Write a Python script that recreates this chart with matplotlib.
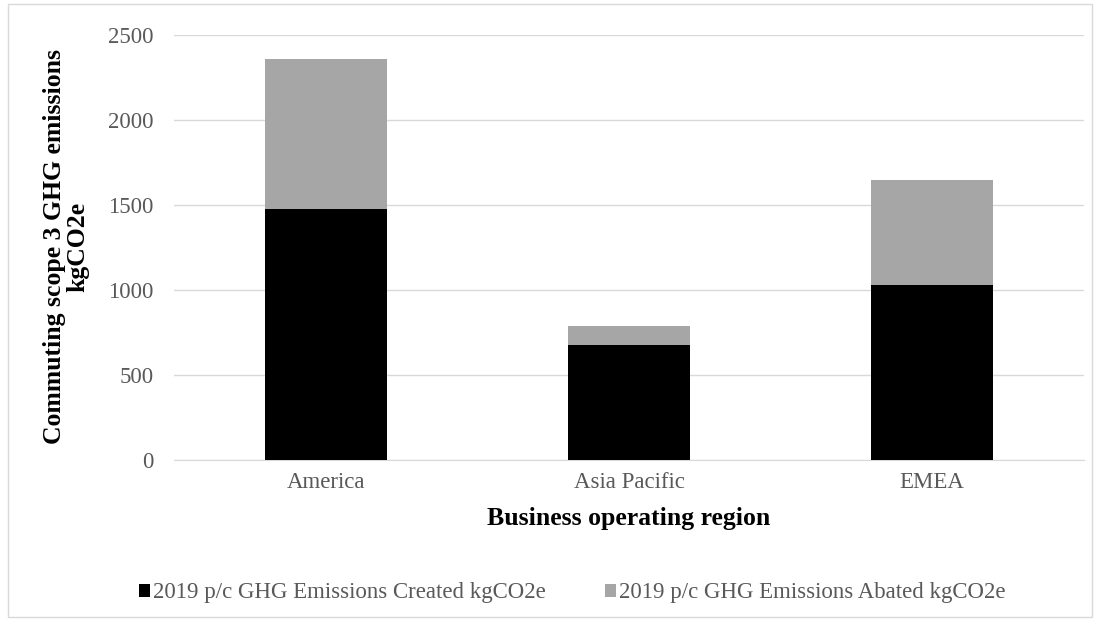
import matplotlib.pyplot as plt
import numpy as np
from matplotlib.patches import Rectangle

regions = ['America', 'Asia Pacific', 'EMEA']
created = [1478, 675, 1029]
abated = [879, 113, 618]

plt.rcParams['font.family'] = ['Liberation Serif', 'DejaVu Serif']

fig = plt.figure(figsize=(11, 6.22), dpi=100)
ax = fig.add_axes([0.1586, 0.2605, 0.8264, 0.6833])

x = np.arange(len(regions))
w = 0.4
b1 = ax.bar(x, created, w, color='black', label='2019 p/c GHG Emissions Created kgCO2e', zorder=3)
b2 = ax.bar(x, abated, w, bottom=created, color='#a6a6a6', label='2019 p/c GHG Emissions Abated kgCO2e', zorder=3)

ax.set_ylim(0, 2500)
ax.set_xlim(-0.5, 2.5)
ax.set_yticks(range(0, 2501, 500))
ax.set_xticks(x)
ax.set_xticklabels(regions)
ax.grid(axis='y', color='#d9d9d9', linewidth=1, zorder=0)
for s in ['top', 'right', 'left']:
    ax.spines[s].set_visible(False)
ax.spines['bottom'].set_color('#d9d9d9')
ax.tick_params(axis='both', length=0, labelsize=16.5, colors='#595959')
ax.tick_params(axis='y', pad=15)
ax.tick_params(axis='x', pad=9)

fig.text(629 / 1100, 1 - 519 / 622, 'Business operating region', fontsize=18.5,
         fontweight='bold', ha='center', va='center')
fig.text(66 / 1100, 1 - 247 / 622, 'Commuting scope 3 GHG emissions\nkgCO2e', fontsize=18.5,
         fontweight='bold', ha='center', va='center', rotation=90, linespacing=1.0)

leg = fig.legend(handles=[b1, b2], loc='center', bbox_to_anchor=(0.52, 0.047), ncol=2,
                 frameon=False, fontsize=16.5, handlelength=0.5, handleheight=0.5,
                 handletextpad=0.1, columnspacing=2.6, borderpad=0)
for t in leg.get_texts():
    t.set_color('#595959')

fig.patches.append(Rectangle((0.007, 0.008), 0.986, 0.985, transform=fig.transFigure,
                             fill=False, edgecolor='#d9d9d9', linewidth=1))

plt.savefig('out.png')
